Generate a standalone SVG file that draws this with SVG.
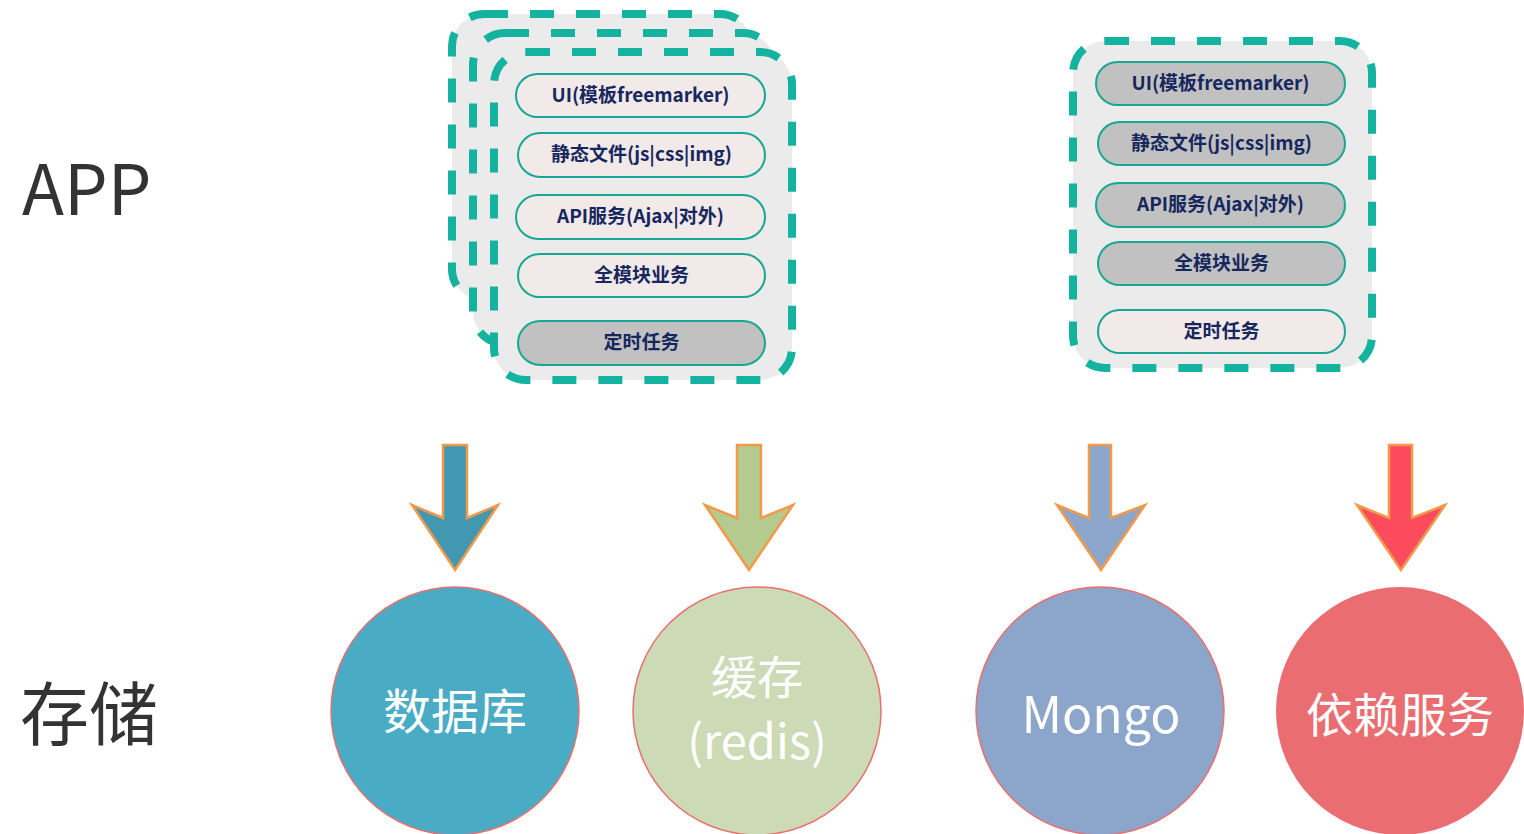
<svg xmlns="http://www.w3.org/2000/svg" width="1524" height="834" viewBox="0 0 1524 834">
<style>
.box{fill:#ebebeb;stroke:#14b39f;stroke-width:8;stroke-dasharray:24 22}
.pill{stroke:#17a895;stroke-width:2}
.pink{fill:#f2e9e9}
.gray{fill:#c1c1c1}
.pt{font-family:"Noto Sans CJK SC","Noto Sans",sans-serif;font-weight:bold;font-size:19px;fill:#16275e;text-anchor:middle}
.lbl{font-family:"Noto Sans CJK SC","Noto Sans",sans-serif;fill:#333333}
.ct{font-family:"Noto Sans CJK SC","Noto Sans",sans-serif;fill:#ffffff;text-anchor:middle}
.arr{stroke:#f39a4a;stroke-width:2.5;stroke-linejoin:miter}
.circ{stroke:#e8706f;stroke-width:1.5}
</style>
<rect width="1524" height="834" fill="#ffffff"/>
<g id="label-app"><text class="lbl" x="22" y="215" font-size="69">APP</text></g>
<g id="label-storage"><text class="lbl" x="20" y="740" font-size="69">存储</text></g>

<g id="app-left">
<rect class="box" x="452" y="14" width="300" height="287" rx="32"/>
<rect class="box" x="473" y="33" width="302" height="311" rx="32"/>
<rect class="box" x="494" y="52" width="298" height="328" rx="32"/>
<g id="l-ui"><rect class="pill pink" x="516" y="74" width="249" height="43" rx="21.5"/><text class="pt" x="640.5" y="102">UI(模板freemarker)</text></g>
<g id="l-static"><rect class="pill pink" x="518" y="133" width="247" height="44" rx="22"/><text class="pt" x="641.5" y="161">静态文件(js|css|img)</text></g>
<g id="l-api"><rect class="pill pink" x="516" y="195" width="249" height="44" rx="22"/><text class="pt" x="640.5" y="223">API服务(Ajax|对外)</text></g>
<g id="l-biz"><rect class="pill pink" x="518" y="254" width="247" height="43" rx="21.5"/><text class="pt" x="641.5" y="282">全模块业务</text></g>
<g id="l-task"><rect class="pill gray" x="518" y="321" width="247" height="44" rx="22"/><text class="pt" x="641.5" y="349">定时任务</text></g>
</g>

<g id="app-right">
<rect class="box" x="1073" y="41" width="299" height="327" rx="32"/>
<g id="r-ui"><rect class="pill gray" x="1096" y="62" width="249" height="43" rx="21.5"/><text class="pt" x="1220.5" y="90">UI(模板freemarker)</text></g>
<g id="r-static"><rect class="pill gray" x="1098" y="122" width="247" height="43" rx="21.5"/><text class="pt" x="1221.5" y="150">静态文件(js|css|img)</text></g>
<g id="r-api"><rect class="pill gray" x="1096" y="183" width="249" height="44" rx="22"/><text class="pt" x="1220.5" y="211">API服务(Ajax|对外)</text></g>
<g id="r-biz"><rect class="pill gray" x="1098" y="242" width="247" height="43" rx="21.5"/><text class="pt" x="1221.5" y="270">全模块业务</text></g>
<g id="r-task"><rect class="pill pink" x="1098" y="310" width="247" height="43" rx="21.5"/><text class="pt" x="1221.5" y="338">定时任务</text></g>
</g>

<g id="connectors">
<polygon class="arr" fill="#4298b0" points="443,445 467,445 467,518 498,505 455,570 412,505 443,518"/>
<polygon class="arr" fill="#b5ca8f" points="737,445 761,445 761,518 793,505 749,570 705,505 737,518"/>
<polygon class="arr" fill="#8ca6cb" points="1089,445 1111,445 1111,518 1145,505 1101,570 1057,505 1089,518"/>
<polygon class="arr" fill="#fb4b5d" points="1389,445 1412,445 1412,518 1445,505 1401,570 1357,505 1389,518"/>
</g>

<g id="db"><circle class="circ" cx="455" cy="711" r="124" fill="#4aabc5"/><text class="ct" x="455" y="729" font-size="48">数据库</text></g>
<g id="cache"><circle class="circ" cx="757" cy="711" r="124" fill="#ccdab5"/><text class="ct" x="757" y="694" font-size="46">缓存</text><text class="ct" x="757" y="759" font-size="47">(redis)</text></g>
<g id="mongo"><circle class="circ" cx="1100" cy="711" r="124" fill="#8ba5cb"/><text class="ct" x="1101" y="733" font-size="50">Mongo</text></g>
<g id="dep"><circle cx="1400" cy="711" r="124" fill="#ea6e71"/><text class="ct" x="1400" y="732" font-size="47">依赖服务</text></g>
</svg>
